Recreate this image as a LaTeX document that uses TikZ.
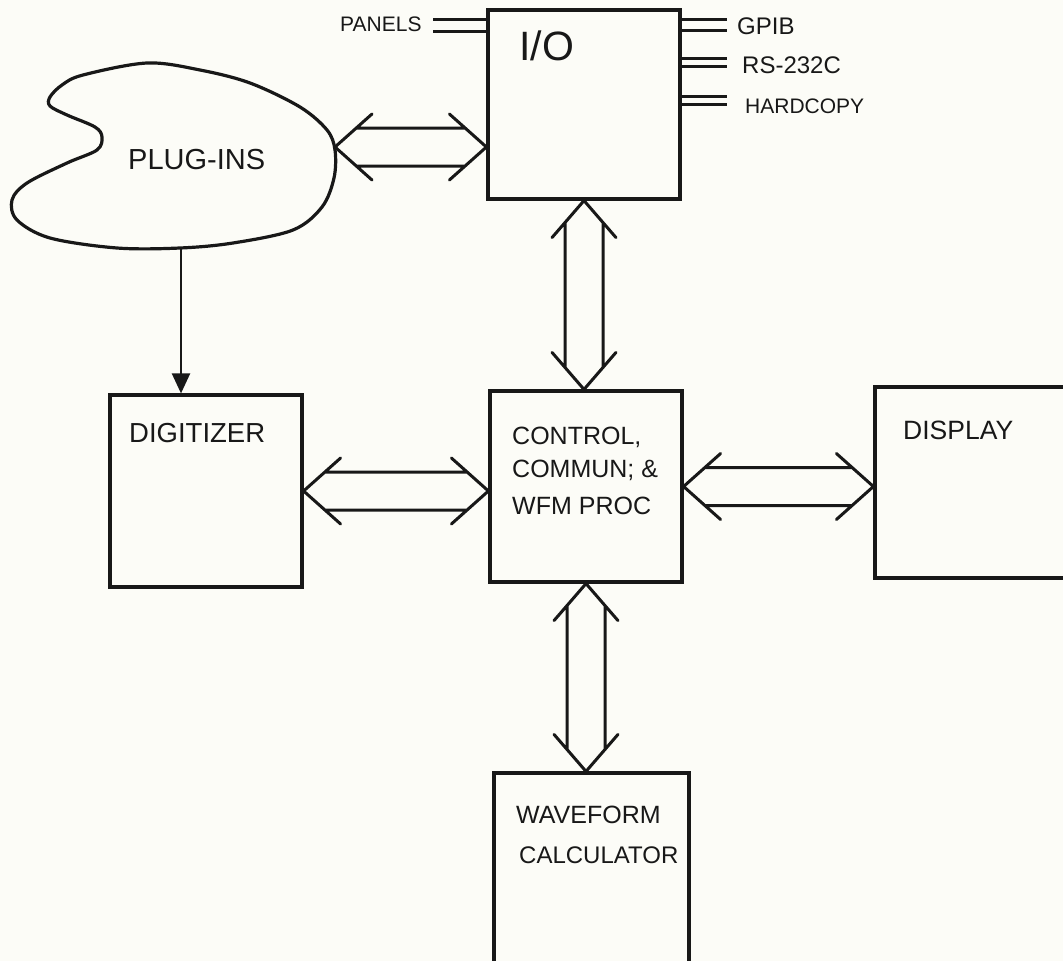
\documentclass[tikz,border=0pt]{standalone}
\usepackage{fontspec}
\setmainfont{Liberation Sans}
\usetikzlibrary{calc,arrows.meta}
\definecolor{ink}{RGB}{24,24,24}
\definecolor{paper}{RGB}{252,252,247}
% horizontal double-line bus arrow: #1 left tip, #2 right tip
\newcommand{\dblh}[2]{%
  \draw[bus] (#1) -- ++(37,-33) (#1) -- ++(37,33)
    (#2) -- ++(-37,-33) (#2) -- ++(-37,33)
    ($(#1)+(21,-19)$) -- ($(#2)+(-21,-19)$)
    ($(#1)+(21,19)$) -- ($(#2)+(-21,19)$);}
% vertical double-line bus arrow: #1 top tip, #2 bottom tip
\newcommand{\dblv}[2]{%
  \draw[bus] (#1) -- ++(-32,37) (#1) -- ++(32,37)
    (#2) -- ++(-32,-37) (#2) -- ++(32,-37)
    ($(#1)+(-19,22)$) -- ($(#2)+(-19,-22)$)
    ($(#1)+(19,22)$) -- ($(#2)+(19,-22)$);}
\begin{document}
\begin{tikzpicture}[x=1pt,y=-1pt,
  blk/.style={draw=ink,line width=3.2pt,inner sep=0pt},
  bus/.style={draw=ink,line width=3pt,line cap=round,line join=round},
  wire/.style={draw=ink,line width=3pt},
  lab/.style={text=ink,font=\fontsize{25}{30}\selectfont,inner sep=0pt,anchor=west},
  small/.style={text=ink,font=\fontsize{21}{24}\selectfont,inner sep=0pt,anchor=west}]
\useasboundingbox (0,0) rectangle (1063,961);
\fill[paper] (0,0) rectangle (1063,961);
\clip (0,0) rectangle (1063,961);

% blocks
\node[blk,minimum width=192pt,minimum height=189pt] (io) at (584,104.5) {};
\node[blk,minimum width=192pt,minimum height=192pt] (digit) at (206,491) {};
\node[blk,minimum width=192pt,minimum height=191pt] (ctrl) at (586,486.5) {};
\node[blk,minimum width=205pt,minimum height=191pt] (disp) at (977.5,482.5) {};
\node[blk,minimum width=195pt,minimum height=202pt] (wave) at (591.5,874) {};

% plug-ins cloud
\draw[ink,line width=3.2pt] plot[smooth cycle,tension=0.55] coordinates {
  (102,137) (95,127) (67,115) (50,106) (50,97) (62,85) (83,75) (147,63)
  (200,70) (250,83) (300,107) (327,130) (335,150) (334,178) (322,207)
  (293,230) (233,243) (180,248) (117,248) (50,238) (17,220) (12,200)
  (27,183) (67,163) (97,150)};
\node[lab,font=\fontsize{29}{34}\selectfont] (plugtxt) at (128,160) {PLUG-INS};
\coordinate (pR) at (335,147);
\coordinate (pB) at (181,249);

% labels
\node[text=ink,font=\fontsize{41}{46}\selectfont,inner sep=0pt,anchor=west] (iotxt) at (519,46) {I/O};
\node[lab,font=\fontsize{27.5}{32}\selectfont] (digtxt) at (129,433) {DIGITIZER};
\node[lab] (ctl1) at (512,437) {CONTROL,};
\node[lab] (ctl2) at (512,470) {COMMUN; \&};
\node[lab] (ctl3) at (512,506) {WFM PROC};
\node[lab,font=\fontsize{26.5}{31}\selectfont] (disptxt) at (903,430) {DISPLAY};
\node[lab] (wav1) at (516,815) {WAVEFORM};
\node[lab,font=\fontsize{24}{29}\selectfont] (wav2) at (519,855) {CALCULATOR};

% I/O side ports
\node[small] (panels) at (340,24) {PANELS};
\node[small,font=\fontsize{24}{28}\selectfont] (gpib) at (737,26) {GPIB};
\node[small,font=\fontsize{24}{28}\selectfont] (rs) at (742,65) {RS-232C};
\node[small] (hc) at (745,106) {HARDCOPY};
\draw[wire] ($(io.north west)+(0,11)$) -- ++(-53,0)
            ($(io.north west)+(0,23)$) -- ++(-53,0);
\draw[wire] ($(io.north east)+(0,11)$) -- ++(45,0)
            ($(io.north east)+(0,22)$) -- ++(45,0)
            ($(io.north east)+(0,50)$) -- ++(45,0)
            ($(io.north east)+(0,58)$) -- ++(45,0)
            ($(io.north east)+(0,88)$) -- ++(45,0)
            ($(io.north east)+(0,96)$) -- ++(45,0);

% connectors
\coordinate (ioW) at (io.west |- pR);
\coordinate (ctrlN) at (ctrl.north -| io.south);
\coordinate (ctrlW) at (ctrl.west |- digit.east);
\coordinate (dispW) at (disp.west |- ctrl.east);
\coordinate (waveN) at (wave.north -| ctrl.south);
\dblh{pR}{ioW}
\dblv{io.south}{ctrlN}
\dblh{digit.east}{ctrlW}
\dblh{ctrl.east}{dispW}
\dblv{ctrl.south}{waveN}
\draw[ink,line width=2.2pt,-{Triangle[length=20pt,width=18pt]}] (pB) -- (digit.north -| pB);
\end{tikzpicture}
\end{document}
